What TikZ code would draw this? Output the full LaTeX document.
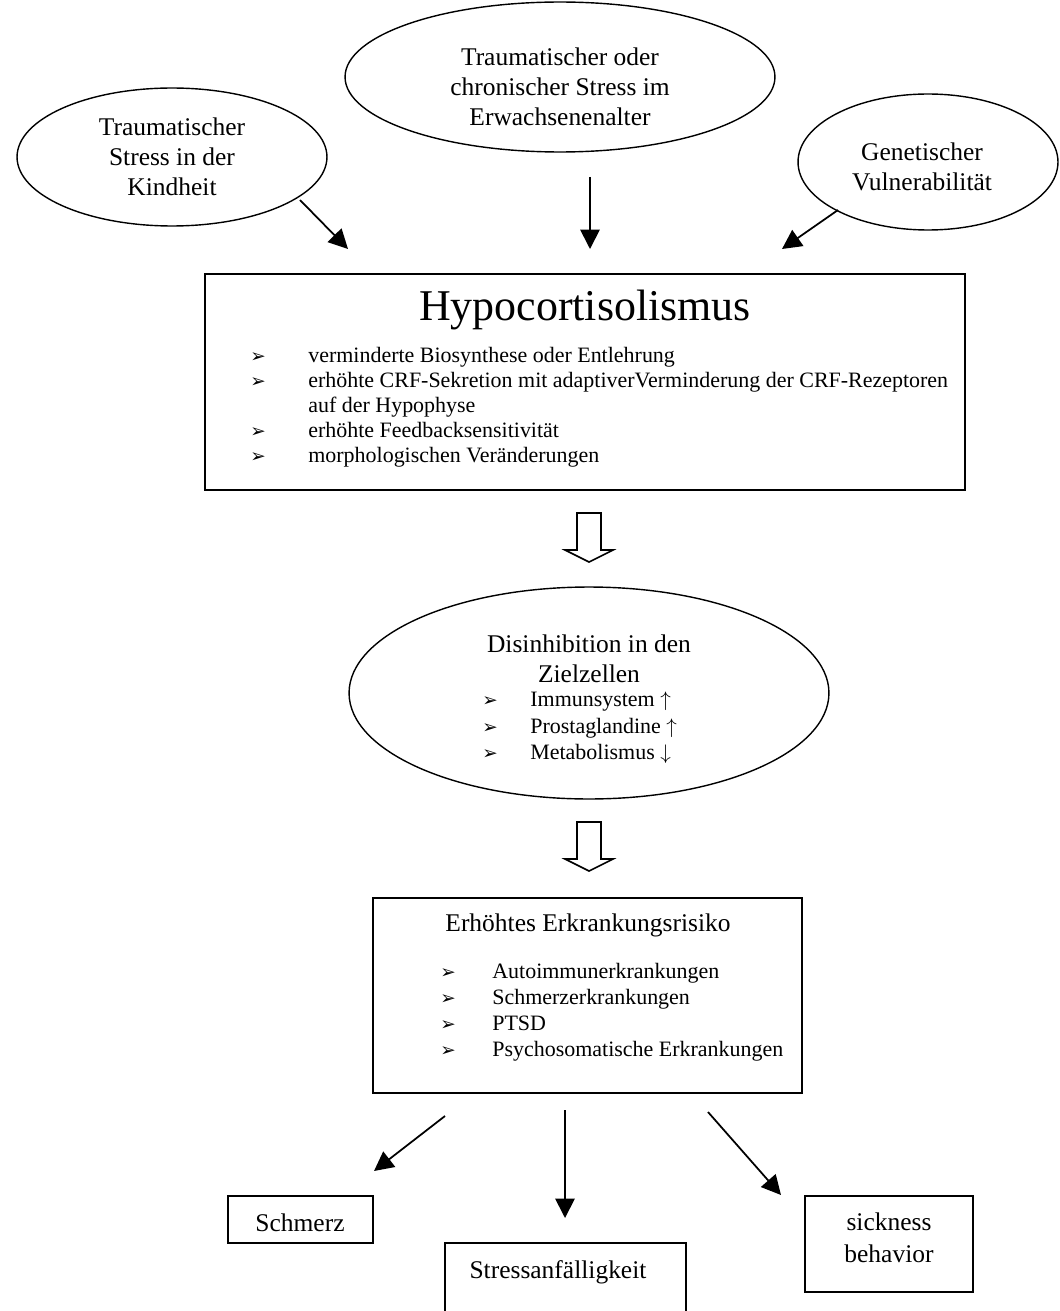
\documentclass[tikz,border=0pt]{standalone}
\usepackage{fontspec}
\setmainfont{Liberation Serif}
\newfontfamily\symfont{DejaVu Sans}
\usetikzlibrary{shapes.geometric,arrows.meta}

% bullet sign
\newcommand{\bul}{{\symfont\fontsize{10.5}{12}\selectfont ➢}}

\begin{document}
\begin{tikzpicture}[x=0.02cm, y=-0.02cm,
    cause/.style={ellipse, draw, line width=0.8pt, inner sep=0pt},
    label/.style={anchor=base, inner sep=0pt, font=\fontsize{14.5}{17}\selectfont},
    block/.style={align=center, inner sep=0pt, font=\fontsize{14.5}{17}\selectfont},
    stagebox/.style={draw, line width=1.3pt, inner sep=0pt},
    item/.style={anchor=base west, inner sep=0pt, font=\fontsize{12.5}{15}\selectfont},
    bullet/.style={anchor=base west, inner sep=0pt},
    arr/.style={line width=1pt, -{Triangle[length=11pt,width=11pt]}},
    hollow/.pic={\draw[line width=0.9pt] (-12,0) -- (12,0) -- (12,37) -- (24,37)
        -- (0,49) -- (-24,37) -- (-12,37) -- cycle;}]

    \useasboundingbox (0,0) rectangle (1060,1311);

    % Causes
    \node[cause, minimum width=6.2cm, minimum height=2.76cm] (kind) at (172,157) {};
    \node[block] (kindt) at (172,157) {Traumatischer\\Stress in der\\Kindheit};
    \node[cause, minimum width=8.6cm, minimum height=3.0cm] (erw) at (560,77) {};
    \node[block] (erwt) at (560,87) {Traumatischer oder\\chronischer Stress im\\Erwachsenenalter};
    \node[cause, minimum width=5.2cm, minimum height=2.72cm] (gen) at (928,162) {};
    \node[block] (gent) at (922,167) {Genetischer\\Vulnerabilität};

    % Arrows into the box
    \coordinate (kindA) at (300,200);  \coordinate (kindB) at (348,249);
    \coordinate (erwA) at (590,177);   \coordinate (erwB) at (590,249);
    \coordinate (genA) at (838,210);   \coordinate (genB) at (782,249);
    \draw[arr] (kindA) -- (kindB);
    \draw[arr] (erwA) -- (erwB);
    \draw[arr] (genA) -- (genB);

    % Hypocortisolismus
    \node[stagebox, minimum width=15.2cm, minimum height=4.32cm] (hypo) at (585,382) {};
    \node[inner sep=0pt, font=\fontsize{25}{30}\selectfont] (hypotitle) at (585,310) {Hypocortisolismus};
    \foreach \y/\txt [count=\i] in {362/verminderte Biosynthese oder Entlehrung,
        387/erhöhte CRF-Sekretion mit adaptiverVerminderung der CRF-Rezeptoren,
        437/erhöhte Feedbacksensitivität,
        462/morphologischen Veränderungen} {
        \node[bullet] (hypob\i) at (250,\y) {\bul};
        \node[item] (hypoi\i) at (308,\y) {\txt};
    }
    \node[item] (hypoi2b) at (308,412) {auf der Hypophyse};

    \pic at (589,513) {hollow};

    % Disinhibition
    \node[cause, minimum width=9.6cm, minimum height=4.24cm] (dis) at (589,693) {};
    \node[label] (dis1) at (589,652) {Disinhibition in den};
    \node[label] (dis2) at (589,682) {Zielzellen};
    \foreach \y/\txt [count=\i] in {706/Immunsystem $\uparrow$,
        733/Prostaglandine $\uparrow$,
        759/Metabolismus $\downarrow$} {
        \node[bullet] (disb\i) at (482,\y) {\bul};
        \node[item] (disi\i) at (530,\y) {\txt};
    }

    \pic at (589,822) {hollow};

    % Erkrankungsrisiko
    \node[stagebox, minimum width=8.58cm, minimum height=3.9cm] (risk) at (587.5,995.5) {};
    \node[label] (risktitle) at (588,931) {Erhöhtes Erkrankungsrisiko};
    \foreach \y/\txt [count=\i] in {978/Autoimmunerkrankungen,
        1004/Schmerzerkrankungen,
        1030/PTSD,
        1056/Psychosomatische Erkrankungen} {
        \node[bullet] (riskb\i) at (440,\y) {\bul};
        \node[item] (riski\i) at (492,\y) {\txt};
    }

    % Outcomes
    \coordinate (outA1) at (445,1116); \coordinate (outB1) at (374,1171);
    \coordinate (outA2) at (565,1110); \coordinate (outB2) at (565,1218);
    \coordinate (outA3) at (708,1112); \coordinate (outB3) at (781,1195);
    \foreach \i in {1,2,3} \draw[arr] (outA\i) -- (outB\i);

    \node[stagebox, minimum width=2.9cm, minimum height=0.94cm] (pain) at (300.5,1219.5) {};
    \node[label] (paint) at (300,1231) {Schmerz};
    \node[stagebox, minimum width=4.82cm, minimum height=1.8cm] (stress) at (565.5,1288) {};
    \node[label] (stresst) at (558,1278) {Stressanfälligkeit};
    \node[stagebox, minimum width=3.36cm, minimum height=1.92cm] (sick) at (889,1244) {};
    \node[label] (sick1) at (889,1230) {sickness};
    \node[label] (sick2) at (889,1262) {behavior};
\end{tikzpicture}
\end{document}
